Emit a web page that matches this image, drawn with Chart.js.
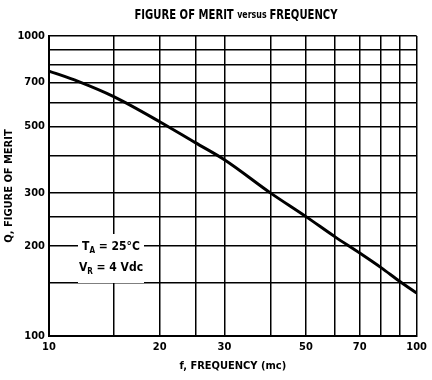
<!DOCTYPE html>
<html>
<head>
<meta charset="utf-8">
<script src="https://cdn.jsdelivr.net/npm/chart.js@4.4.1/dist/chart.umd.min.js"></script>
<style>
html,body{margin:0;padding:0;background:#fff;}
#wrap{width:432px;height:380px;position:relative;}
</style>
</head>
<body>
<div id="wrap"><canvas id="c" width="432" height="380"></canvas></div>
<script>
const frequency = [10, 12, 15, 20, 25, 30, 40, 50, 60, 70, 80, 90, 100];
const figureOfMerit = [764, 706, 628, 518, 441, 387, 300, 250, 214, 189, 169, 152, 139];
const xGrid = [10, 15, 20, 25, 30, 40, 50, 60, 70, 80, 90, 100];
const xLabels = [10, 20, 30, 50, 70, 100];
const yGrid = [100, 150, 200, 250, 300, 400, 500, 600, 700, 800, 900, 1000];
const yLabels = [100, 200, 300, 500, 700, 1000];

const FONT = "'Liberation Sans Narrow', 'DejaVu Sans Condensed', 'Liberation Sans', sans-serif";

const annot = {
  id: 'annot',
  beforeDatasetsDraw(chart) {
    const ctx = chart.ctx;
    ctx.save();
    ctx.fillStyle = '#fff';
    ctx.fillRect(78, 234, 66, 49);
    ctx.fillStyle = '#000';
    ctx.textBaseline = 'middle';
    function sub(cx, y, main, s, rest) {
      ctx.font = 'bold 12px ' + FONT;
      const w = ctx.measureText(main).width;
      const w3 = ctx.measureText(rest).width;
      ctx.font = 'bold 8px ' + FONT;
      const w2 = ctx.measureText(s).width;
      let x = cx - (w + w2 + w3) / 2;
      ctx.textAlign = 'left';
      ctx.font = 'bold 12px ' + FONT;
      ctx.fillText(main, x, y);
      ctx.font = 'bold 8px ' + FONT;
      ctx.fillText(s, x + w, y + 4);
      ctx.font = 'bold 12px ' + FONT;
      ctx.fillText(rest, x + w + w2, y);
    }
    sub(111, 247, 'T', 'A', ' = 25°C');
    sub(111, 268, 'V', 'R', ' = 4 Vdc');
    ctx.restore();
  },
  afterDraw(chart) {
    const ctx = chart.ctx;
    ctx.save();
    ctx.fillStyle = '#000';
    ctx.textBaseline = 'middle';
    ctx.textAlign = 'left';
    const parts = [['FIGURE OF MERIT ', 'bold 14px '], ['versus ', 'bold 11px '], ['FREQUENCY', 'bold 14px ']];
    let total = 0;
    parts.forEach(p => { ctx.font = p[1] + FONT; total += ctx.measureText(p[0]).width; });
    const sx = 203 / total;
    ctx.translate(236 - total * sx / 2, 15);
    ctx.scale(sx, 1);
    let x = 0;
    parts.forEach(p => { ctx.font = p[1] + FONT; ctx.fillText(p[0], x, 0); x += ctx.measureText(p[0]).width; });
    ctx.restore();
  }
};

new Chart(document.getElementById('c'), {
  type: 'line',
  data: {
    datasets: [{
      data: frequency.map((f, i) => ({ x: f, y: figureOfMerit[i] })),
      borderColor: '#000',
      borderWidth: 3,
      pointRadius: 0,
      fill: false,
      cubicInterpolationMode: 'monotone'
    }]
  },
  options: {
    responsive: false,
    animation: false,
    devicePixelRatio: 1,
    layout: { padding: { top: 36, right: 15, left: 0, bottom: 0 } },
    plugins: { legend: { display: false }, tooltip: { enabled: false }, title: { display: false } },
    scales: {
      x: {
        type: 'logarithmic',
        min: 10, max: 100,
        afterBuildTicks(s) { s.ticks = xGrid.map(v => ({ value: v })); },
        afterFit(s) { s.height = 44; },
        ticks: {
          autoSkip: false, maxRotation: 0, padding: 5, color: '#000',
          font: { family: FONT, weight: 'bold', size: 11 },
          callback(v) { return xLabels.includes(v) ? String(v) : ''; }
        },
        grid: { color: '#000', lineWidth: 1.5, drawTicks: false },
        border: { color: '#000', width: 2 },
        title: {
          display: true, text: 'f, FREQUENCY (mc)', color: '#000',
          font: { family: FONT, weight: 'bold', size: 11 }, padding: { top: 0, bottom: 7 }
        }
      },
      y: {
        type: 'logarithmic',
        min: 100, max: 1000,
        afterBuildTicks(s) { s.ticks = yGrid.map(v => ({ value: v })); },
        afterFit(s) { s.width = 49; },
        ticks: {
          autoSkip: false, padding: 4, color: '#000',
          font: { family: FONT, weight: 'bold', size: 11 },
          callback(v) { return yLabels.includes(v) ? String(v) : ''; }
        },
        grid: { color: '#000', lineWidth: 1.5, drawTicks: false },
        border: { color: '#000', width: 2 },
        title: {
          display: true, text: 'Q, FIGURE OF MERIT', color: '#000',
          font: { family: FONT, weight: 'bold', size: 11 }, padding: { top: 3, bottom: 0 }
        }
      }
    }
  },
  plugins: [annot]
});
</script>
</body>
</html>
